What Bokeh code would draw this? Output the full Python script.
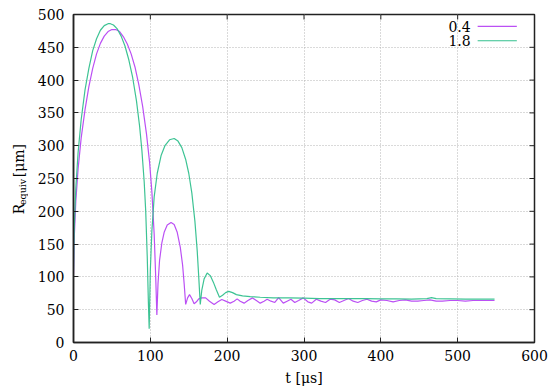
import math
from bokeh.plotting import figure
from bokeh.models import Label, Range1d, FixedTicker
from bokeh.layouts import row
from bokeh.embed import file_html
from bokeh.resources import INLINE

# ---- data ----
series_names = ["0.4", "1.8"]

t_04 = [0, 1, 3, 6, 10, 15, 20, 25, 30, 35, 40, 45, 50, 55, 60, 65, 70, 75, 80, 85,
        90, 95, 99, 102, 105, 107, 108.5, 110, 112, 115, 118, 122, 127, 131, 135, 139,
        142, 144, 146, 148.5, 151, 154, 157, 160, 163, 167, 172, 177, 183, 188, 193,
        198, 204, 209, 213, 217, 222, 227, 233, 238, 243, 248, 252, 257, 262, 267, 273,
        278, 283, 288, 293, 299, 305, 310, 316, 322, 328, 334, 340, 346, 352, 358, 364,
        370, 376, 382, 388, 394, 400, 408, 416, 424, 432, 440, 448, 456, 464, 472, 480,
        490, 500, 510, 520, 530, 540, 548]
r_04 = [105, 160, 215, 265, 312, 355, 390, 418, 440, 456, 467, 474, 477, 477, 474, 466,
        455, 440, 420, 393, 360, 318, 275, 230, 165, 100, 42, 90, 125, 152, 168, 179,
        183, 180, 168, 145, 118, 90, 58, 68, 73, 67, 59, 62, 66.5, 68, 68, 63, 58, 62,
        65.5, 63, 60, 63, 66.5, 63, 60, 64, 68, 64, 60, 63, 66, 63, 61, 68.5, 60, 63,
        66, 61, 64, 68, 62, 60, 66, 63, 61, 66, 65, 61, 64, 67, 63, 61, 64, 66, 63, 62,
        65, 64, 62, 64, 65, 63, 63, 64, 65, 63, 63, 64, 64, 63, 64, 64, 64, 64]

t_18 = [0, 1, 3, 6, 10, 15, 20, 25, 30, 35, 40, 45, 48, 52, 57, 62, 67, 72, 77, 82, 86,
        89, 92, 94, 96, 97.5, 98.5, 100, 102, 105, 109, 114, 119, 125, 131, 136, 141,
        146, 150, 154, 158, 161, 163, 165, 167, 170, 174, 178, 182, 186, 190, 194, 198,
        202, 207, 212, 220, 230, 243, 260, 280, 300, 320, 340, 360, 380, 400, 420, 440,
        460, 466, 472, 490, 510, 530, 548]
r_18 = [110, 175, 235, 290, 340, 385, 418, 445, 463, 476, 483, 486, 486, 484, 478, 467,
        452, 431, 404, 368, 330, 293, 245, 200, 130, 60, 21, 110, 170, 222, 258, 285,
        300, 309, 311, 307, 297, 279, 258, 228, 185, 140, 100, 58, 80, 97, 106, 102,
        92, 80, 69, 72, 76, 78, 76, 73, 71, 70, 69, 68, 68, 67.5, 67, 67, 67, 67, 66.5,
        66.5, 66, 67, 68.5, 67, 66.5, 66, 66, 66]

x_ticks = [0, 100, 200, 300, 400, 500, 600]
y_ticks = [0, 50, 100, 150, 200, 250, 300, 350, 400, 450, 500]
x_title = "t [μs]"
y_title = ["R", "equiv", "[μm]"]

# ---- style ----
FONT = "DejaVu Serif"
FS = "14px"
C_PURPLE = "#bb50f4"
C_GREEN = "#33c08e"
AXC = "#222222"
W, H = 550, 389
LEFT_W = 28
X0, X1 = 0, 600
Y0, Y1 = 0, 500
B_LEFT, B_RIGHT, B_TOP, B_BOTTOM = 73, 16, 14, 47
FRAME_W = W - B_LEFT - B_RIGHT
FRAME_H = H - B_TOP - B_BOTTOM

p = figure(width=W - LEFT_W, height=H, output_backend="svg", toolbar_location=None,
           x_range=Range1d(X0, X1), y_range=Range1d(Y0, Y1),
           min_border_left=B_LEFT - LEFT_W, min_border_right=B_RIGHT,
           min_border_top=B_TOP, min_border_bottom=B_BOTTOM)
p.background_fill_color = "white"
p.border_fill_color = "white"
p.outline_line_color = AXC
p.outline_line_width = 1.5

p.xaxis.ticker = FixedTicker(ticks=x_ticks, minor_ticks=[])
p.yaxis.ticker = FixedTicker(ticks=y_ticks, minor_ticks=[])
for ax in (p.xaxis[0], p.yaxis[0]):
    ax.axis_line_color = AXC
    ax.axis_line_width = 1.5
    ax.major_tick_line_color = AXC
    ax.major_tick_line_width = 1
    ax.major_tick_in = 5
    ax.major_tick_out = 0
    ax.minor_tick_line_color = None
    ax.major_label_text_font = FONT
    ax.major_label_text_font_size = FS
    ax.major_label_text_color = "black"
p.xaxis.major_label_standoff = 7
p.yaxis.major_label_standoff = 9
p.xaxis.axis_label = x_title
p.xaxis.axis_label_text_font = FONT
p.xaxis.axis_label_text_font_size = FS
p.xaxis.axis_label_text_font_style = "normal"
p.xaxis.axis_label_text_color = "black"
p.xaxis.axis_label_standoff = 6

p.grid.grid_line_color = "#b4b4b4"
p.grid.grid_line_dash = "1 2"
p.grid.grid_line_width = 1

# mirrored ticks on top and right border (gnuplot style)
tick_dy = 5 * (Y1 - Y0) / FRAME_H
tick_dx = 5 * (X1 - X0) / FRAME_W
inner_x = x_ticks[1:-1]
inner_y = y_ticks[1:-1]
p.segment(x0=inner_x, x1=inner_x, y0=[Y1] * len(inner_x), y1=[Y1 - tick_dy] * len(inner_x),
          line_color=AXC, line_width=1)
p.segment(x0=[X1] * len(inner_y), x1=[X1 - tick_dx] * len(inner_y), y0=inner_y, y1=inner_y,
          line_color=AXC, line_width=1)

# ---- series ----
p.line(t_04, r_04, line_color=C_PURPLE, line_width=1.2)
p.line(t_18, r_18, line_color=C_GREEN, line_width=1.2, line_alpha=0.95)

# ---- legend (label left of sample, as in the reference) ----
leg_text_x = 517
leg_line_x = (526, 577)
leg_y = (482, 460)
for name, col, yy in zip(series_names, (C_PURPLE, C_GREEN), leg_y):
    p.add_layout(Label(x=leg_text_x, y=yy, text=name, text_align="right",
                       text_baseline="middle", text_font=FONT,
                       text_font_size=FS, text_color="black"))
    p.segment(x0=[leg_line_x[0]], x1=[leg_line_x[1]], y0=[yy], y1=[yy],
              line_color=col, line_width=1.2)

# ---- y title in a narrow side figure (R with subscript "equiv") ----
q = figure(width=LEFT_W, height=H, output_backend="svg", toolbar_location=None,
           x_range=Range1d(0, LEFT_W), y_range=Range1d(0, H), min_border=0,
           x_axis_type=None, y_axis_type=None)
q.outline_line_color = None
q.grid.visible = False
q.background_fill_color = "white"
q.border_fill_color = "white"
SHIFT = 17
q.add_layout(Label(x=18, y=H - 220 - SHIFT, text=y_title[0], angle=math.pi / 2,
                   text_align="left", text_baseline="middle", text_font=FONT,
                   text_font_size=FS, text_color="black"))
q.add_layout(Label(x=22, y=H - 209 - SHIFT, text=y_title[1], angle=math.pi / 2,
                   text_align="left", text_baseline="middle", text_font=FONT,
                   text_font_size="9.5px", text_color="black"))
q.add_layout(Label(x=18, y=H - 176 - SHIFT, text=y_title[2], angle=math.pi / 2,
                   text_align="left", text_baseline="middle", text_font=FONT,
                   text_font_size=FS, text_color="black"))

layout = row(q, p)
open("out.html", "w").write(file_html(layout, INLINE))
